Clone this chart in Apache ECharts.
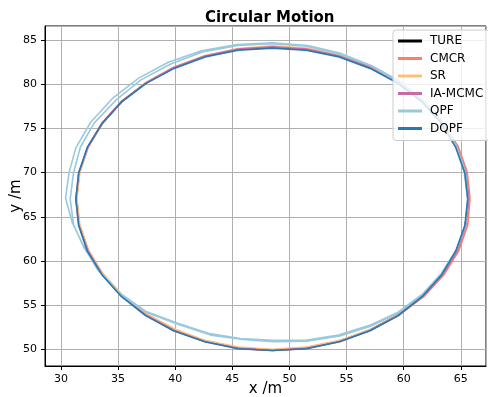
<!DOCTYPE html>
<html>
<head>
<meta charset="utf-8">
<script src="https://cdn.jsdelivr.net/npm/echarts@6/dist/echarts.min.js"></script>
<style>
  html, body { margin: 0; padding: 0; background: #fff; }
  #c1 { width: 488px; height: 397px; }
</style>
</head>
<body>
<div id="c1"></div>
<script>
// values
const names = ['TURE', 'CMCR', 'SR', 'IA-MCMC', 'QPF', 'DQPF']
const colors = ['#000000', '#fa7f6f', '#ffbe7a', '#c76da2', '#9ac9db', '#2878b5']

const tureX = [65.65,65.39,64.62,63.35,61.64,59.52,57.08,54.37,51.48,48.5,45.52,42.63,39.92,37.48,35.36,33.65,32.38,31.61,31.35,31.61,32.38,33.65,35.36,37.48,39.92,42.63,45.52,48.5,51.48,54.37,57.08,59.52,61.64,63.35,64.62,65.39,65.65]
const tureY = [67.05,70.03,72.92,75.63,78.07,80.19,81.9,83.17,83.94,84.2,83.94,83.17,81.9,80.19,78.07,75.63,72.92,70.03,67.05,64.07,61.18,58.47,56.03,53.91,52.2,50.93,50.16,49.9,50.16,50.93,52.2,53.91,56.03,58.47,61.18,64.07,67.05]

const cmcrX = [65.8,65.55,64.75,63.4,61.7,59.55,57.1,54.35,51.45,48.45,45.5,42.6,39.9,37.45,35.3,33.6,32.35,31.6,31.35,31.6,32.4,33.7,35.4,37.5,39.95,42.65,45.55,48.55,51.5,54.4,57.1,59.6,61.75,63.5,64.8,65.6,65.8]
const cmcrY = [67.1,70.1,73.0,75.7,78.1,80.25,81.95,83.2,84.0,84.25,84.0,83.2,81.95,80.2,78.1,75.65,72.95,70.05,67.05,64.05,61.15,58.45,56.0,53.9,52.15,50.9,50.1,49.85,50.1,50.9,52.15,53.85,55.95,58.4,61.1,64.05,67.1]

const srX = [65.7,65.45,64.65,63.4,61.65,59.5,57.05,54.35,51.5,48.5,45.5,42.6,39.9,37.45,35.35,33.65,32.4,31.65,31.4,31.65,32.4,33.7,35.4,37.5,39.95,42.6,45.5,48.5,51.5,54.4,57.1,59.55,61.7,63.4,64.65,65.45,65.7]
const srY = [67.05,70.05,72.95,75.7,78.15,80.3,82.0,83.3,84.1,84.35,84.05,83.25,81.95,80.2,78.05,75.6,72.9,70.0,67.05,64.1,61.2,58.5,56.1,54.0,52.3,51.0,50.25,50.0,50.25,51.0,52.25,53.95,56.05,58.5,61.2,64.05,67.05]

const iaX = [65.7,65.45,64.65,63.4,61.7,59.55,57.1,54.4,51.5,48.5,45.5,42.6,39.9,37.45,35.3,33.6,32.35,31.55,31.3,31.55,32.35,33.6,35.3,37.45,39.9,42.6,45.5,48.5,51.5,54.4,57.1,59.55,61.7,63.4,64.7,65.45,65.7]
const iaY = [67.05,70.05,72.95,75.65,78.1,80.2,81.95,83.2,84.0,84.25,84.0,83.2,81.9,80.15,78.05,75.6,72.9,70.0,67.05,64.05,61.15,58.45,56.0,53.85,52.1,50.85,50.1,49.85,50.1,50.85,52.15,53.85,56.0,58.45,61.15,64.05,67.05]

// QPF goes round twice
const qpfX = [65.6,65.4,64.6,63.4,61.7,59.6,57.2,54.5,51.6,48.5,45.4,42.3,39.4,36.8,34.5,32.6,31.3,30.7,30.4,31.0,31.9,33.2,35.1,37.4,40.1,42.9,45.7,48.5,51.4,54.3,57.0,59.5,61.6,63.3,64.6,65.4,
              65.6,65.3,64.6,63.3,61.6,59.5,57.1,54.4,51.5,48.5,45.5,42.5,39.6,37.0,34.8,32.9,31.7,31.1,30.8,31.1,32.0,33.4,35.2,37.6,40.3,43.1,45.9,48.6,51.5,54.4,57.1,59.5,61.6,63.3,64.6,65.4,65.6]
const qpfY = [67.1,70.1,73.0,75.7,78.2,80.4,82.1,83.5,84.4,84.7,84.5,83.8,82.5,80.7,78.4,75.7,72.8,70.0,67.1,64.3,61.9,59.0,56.4,54.3,53.0,51.8,51.2,51.0,51.0,51.6,52.7,54.2,56.2,58.6,61.3,64.1,
              67.0,70.0,72.9,75.7,78.2,80.3,82.1,83.4,84.3,84.6,84.4,83.7,82.3,80.5,78.2,75.6,72.9,70.0,67.0,64.1,61.5,58.8,56.2,54.1,52.8,51.6,51.1,50.85,50.9,51.5,52.6,54.1,56.1,58.5,61.2,64.0,67.0]

const dqpfX = [65.6,65.35,64.55,63.3,61.6,59.5,57.05,54.35,51.45,48.5,45.5,42.6,39.9,37.45,35.3,33.6,32.3,31.55,31.3,31.55,32.3,33.6,35.3,37.4,39.85,42.6,45.5,48.5,51.5,54.35,57.05,59.5,61.6,63.3,64.55,65.35,65.6]
const dqpfY = [67.0,69.95,72.85,75.55,78.0,80.1,81.8,83.1,83.85,84.1,83.85,83.1,81.8,80.1,78.0,75.55,72.85,69.95,67.0,64.0,61.1,58.4,55.95,53.8,52.1,50.85,50.05,49.85,50.05,50.85,52.1,53.8,55.95,58.4,61.1,64.0,67.0]

const allX = [tureX, cmcrX, srX, iaX, qpfX, dqpfX]
const allY = [tureY, cmcrY, srY, iaY, qpfY, dqpfY]

const myChart = echarts.init(document.getElementById('c1'))

const font = 'DejaVu Sans'
const axisCommon = {
  type: 'value',
  axisLine: { show: true, onZero: false, lineStyle: { color: '#000', width: 1 } },
  axisTick: { show: true, inside: false, length: 4, lineStyle: { color: '#000' } },
  axisLabel: { color: '#000', fontFamily: font, fontSize: 11, showMinLabel: false, showMaxLabel: false },
  splitLine: { show: true, lineStyle: { color: '#b0b0b0', width: 1 } },
  nameLocation: 'middle',
  nameMoveOverlap: false,
  nameTextStyle: { color: '#000', fontFamily: font, fontSize: 15 }
}

const option = {
  animation: false,
  title: {
    text: 'Circular Motion',
    left: 200,
    top: 6,
    textStyle: { fontFamily: font, fontSize: 15, fontWeight: 'bold', color: '#000' }
  },
  grid: {
    left: 45, top: 26, width: 441, height: 340,
    containLabel: false,
    outerBoundsMode: 'none',
    show: true, borderColor: '#000', borderWidth: 1, backgroundColor: 'transparent'
  },
  legend: {
    data: names,
    orient: 'vertical',
    left: 393,
    top: 30,
    icon: 'rect',
    itemWidth: 24,
    itemHeight: 3,
    itemGap: 5.5,
    padding: [5, 6, 6, 5],
    backgroundColor: 'rgba(255,255,255,0.8)',
    borderColor: '#cccccc',
    borderWidth: 1,
    borderRadius: 3,
    textStyle: { fontFamily: font, fontSize: 12, color: '#000', padding: [0, 0, 0, 3] }
  },
  xAxis: Object.assign({}, axisCommon, {
    min: 28.6, max: 67.2, splitNumber: 8,
    name: 'x /m', nameGap: 16
  }),
  yAxis: Object.assign({}, axisCommon, {
    min: 48.1, max: 86.6, splitNumber: 8,
    name: 'y /m', nameGap: 21
  }),
  series: names.map((n, k) => ({
    name: n,
    type: 'line',
    showSymbol: false,
    symbol: 'none',
    color: colors[k],
    lineStyle: { width: 1.6, color: colors[k] },
    data: allX[k].map((x, i) => [x, allY[k][i]])
  }))
}
myChart.setOption(option)
</script>
</body>
</html>
